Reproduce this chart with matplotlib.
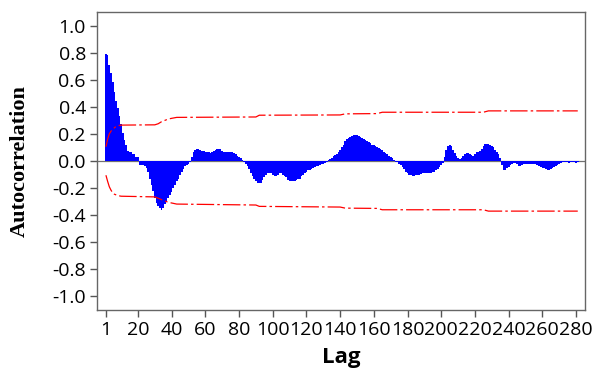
import numpy as np
import matplotlib
matplotlib.use("Agg")
import matplotlib.pyplot as plt

# autocorrelation at lags 1..281
acf = [
    0.79, 0.78, 0.71, 0.65, 0.58, 0.51, 0.44, 0.39, 0.33, 0.27,
    0.21, 0.155, 0.12, 0.075, 0.067, 0.067, 0.05, 0.05, 0.03, 0.03,
    -0.03, -0.03, -0.03, -0.04, -0.05, -0.08, -0.13, -0.18, -0.22, -0.27,
    -0.31, -0.33, -0.35, -0.36, -0.35, -0.32, -0.30, -0.27, -0.25, -0.23,
    -0.20, -0.18, -0.15, -0.13, -0.10, -0.08, -0.06, -0.04, -0.03, -0.02,
    -0.01, 0.03, 0.07, 0.08, 0.085, 0.085, 0.08, 0.075, 0.075, 0.07,
    0.065, 0.065, 0.06, 0.07, 0.075, 0.08, 0.085, 0.09, 0.085, 0.075,
    0.07, 0.07, 0.07, 0.065, 0.065, 0.065, 0.06, 0.05, 0.04, 0.03,
    0.02, 0.01, -0.01, -0.02, -0.04, -0.06, -0.09, -0.11, -0.13, -0.15,
    -0.16, -0.165, -0.16, -0.14, -0.12, -0.10, -0.09, -0.085, -0.09, -0.10,
    -0.11, -0.11, -0.10, -0.09, -0.09, -0.10, -0.11, -0.12, -0.14, -0.145,
    -0.145, -0.145, -0.145, -0.14, -0.135, -0.13, -0.11, -0.10, -0.09, -0.08,
    -0.07, -0.065, -0.06, -0.05, -0.045, -0.04, -0.035, -0.03, -0.025, -0.02,
    -0.015, -0.01, 0.005, 0.015, 0.025, 0.035, 0.045, 0.055, 0.065, 0.08,
    0.10, 0.12, 0.145, 0.16, 0.17, 0.18, 0.185, 0.19, 0.19, 0.19,
    0.185, 0.175, 0.17, 0.16, 0.155, 0.15, 0.14, 0.13, 0.12, 0.12,
    0.11, 0.10, 0.095, 0.085, 0.08, 0.07, 0.06, 0.05, 0.04, 0.03,
    0.02, 0.005, -0.005, -0.01, -0.02, -0.03, -0.045, -0.06, -0.08, -0.09,
    -0.10, -0.105, -0.11, -0.11, -0.105, -0.10, -0.10, -0.095, -0.09, -0.09,
    -0.09, -0.09, -0.085, -0.085, -0.08, -0.08, -0.07, -0.06, -0.045, -0.03,
    -0.015, 0.03, 0.08, 0.11, 0.12, 0.11, 0.08, 0.06, 0.04, 0.025,
    0.015, 0.02, 0.035, 0.05, 0.06, 0.06, 0.055, 0.045, 0.04, 0.05,
    0.065, 0.07, 0.075, 0.09, 0.11, 0.125, 0.125, 0.125, 0.12, 0.11,
    0.10, 0.08, 0.07, 0.05, 0.02, -0.03, -0.065, -0.065, -0.055, -0.045,
    -0.03, -0.02, -0.015, -0.015, -0.02, -0.04, -0.04, -0.03, -0.025, -0.025,
    -0.025, -0.02, -0.02, -0.02, -0.02, -0.025, -0.03, -0.04, -0.045, -0.05,
    -0.055, -0.06, -0.065, -0.065, -0.06, -0.05, -0.045, -0.035, -0.03, -0.025,
    -0.015, -0.01, -0.01, -0.01, -0.01, -0.012, -0.01, -0.01, -0.01, -0.012,
    -0.01,
]
lags = np.arange(1, len(acf) + 1)

# confidence limits (red dash-dot), read at a few lags
band_lags = [1, 2, 3, 4, 5, 6, 7, 8, 10, 30, 32, 34, 36, 38, 40, 43,
             90, 92, 140, 143, 162, 165, 225, 228, 281]
band_upper = [0.105, 0.16, 0.20, 0.22, 0.235, 0.245, 0.255, 0.26, 0.265, 0.267,
              0.275, 0.29, 0.30, 0.31, 0.315, 0.322, 0.325, 0.338, 0.34, 0.348,
              0.35, 0.36, 0.36, 0.37, 0.37]
band_lower = [-0.105, -0.15, -0.19, -0.215, -0.235, -0.245, -0.25, -0.255, -0.26, -0.265,
              -0.275, -0.285, -0.295, -0.305, -0.31, -0.318, -0.325, -0.335, -0.34, -0.348,
              -0.35, -0.36, -0.36, -0.37, -0.37]

x_ticks = [1, 20, 40, 60, 80, 100, 120, 140, 160, 180, 200, 220, 240, 260, 280]
y_ticks = [1.0, 0.8, 0.6, 0.4, 0.2, 0.0, -0.2, -0.4, -0.6, -0.8, -1.0]

fig = plt.figure(figsize=(5.96, 3.69), dpi=100)
ax = fig.add_axes([97 / 596, 1 - 310 / 369, (585 - 97) / 596, (310 - 12) / 369])

ax.axhline(0, color="#707070", lw=0.9, zorder=1)
ax.bar(lags, acf, width=1.0, color="#0000ff", linewidth=0, zorder=2)
dash = (0, (14, 2.5, 2, 2.5))
ax.plot(band_lags, band_upper, color="#ff0000", lw=0.9, linestyle=dash, zorder=3)
ax.plot(band_lags, band_lower, color="#ff0000", lw=0.9, linestyle=dash, zorder=3)

ax.set_xlim(-4.3, 285.3)
ax.set_ylim(-1.1, 1.1)
ax.set_xticks(x_ticks)
ax.set_xticklabels([str(t) for t in x_ticks], fontfamily="Open Sans", fontsize=14)
ax.set_yticks(y_ticks)
ax.set_yticklabels([f"{t:.1f}" for t in y_ticks], fontfamily="Open Sans", fontsize=14)
ax.tick_params(direction="out", length=5, width=1, color="#555555", pad=3)

for s in ax.spines.values():
    s.set_color("#666666")
    s.set_linewidth(1.0)

ax.set_xlabel("Lag", fontfamily="Open Sans", fontweight="bold", fontsize=16, labelpad=6)
ax.set_ylabel("Autocorrelation", fontfamily="Liberation Serif", fontweight="bold",
              fontsize=16, labelpad=16)

fig.savefig("out.png", dpi=100)
